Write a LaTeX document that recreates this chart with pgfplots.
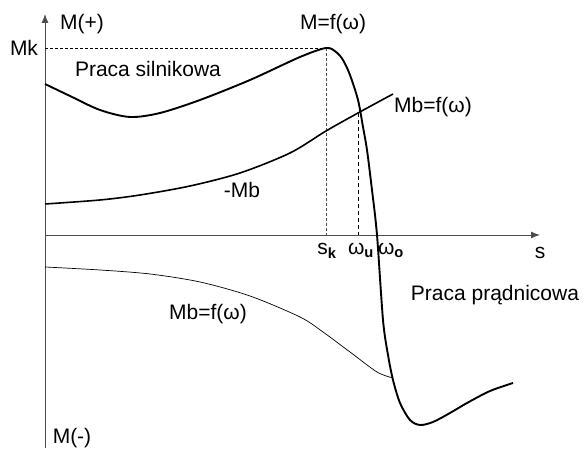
\documentclass[border=0pt]{standalone}
\usepackage{pgfplots}
\pgfplotsset{compat=1.18}
\usepackage{fontspec}
\setmainfont{Liberation Sans}
\usetikzlibrary{arrows.meta}

% torque characteristic of an induction machine (pixel-like units)
\pgfplotstableread{
x y
0 151
25 139
55 125
85 118
115 122
155 135
205 155
255 178
281 187
291 183
298 175
305 160
313 135
318 108
322 85
327 45
332 0
338 -85
343 -120
348 -145
355 -168
365 -185
375 -190
388 -187
405 -178
422 -168
445 -156
468 -148
}\motor

\pgfplotstableread{
x y
0 31
55 35
95 40
145 49
195 62
245 82
281 104
313 122
348 141
}\loadup

\pgfplotstableread{
x y
0 -32
55 -35
105 -39
155 -47
205 -61
255 -82
278 -97
305 -117
332 -137
348 -143
}\loaddown

\begin{document}
\begin{tikzpicture}[lbl/.style={font=\fontsize{21}{25}\selectfont, inner sep=0pt}]
\begin{axis}[
  scale only axis,
  width=495pt, height=434pt,
  xmin=0, xmax=495, ymin=-213, ymax=221,
  axis lines=middle,
  axis line style={draw=black!70, line width=0.9pt, -{Latex[length=9pt,width=7pt]}},
  xtick=\empty, ytick=\empty,
  clip=false,
]
% fixes the page extent
\path (axis cs:-45,-213) rectangle (axis cs:539,235);

\addplot[black, line width=0.6pt, dash pattern=on 3pt off 2pt] coordinates {(0,187) (281,187)};
\addplot[black!70, line width=0.6pt, dash pattern=on 3pt off 2pt] coordinates {(281,187) (281,0)};
\addplot[black, line width=0.6pt, dash pattern=on 4pt off 3pt] coordinates {(313,122) (313,0)};

\addplot[black, line width=1.9pt, smooth, tension=0.5] table {\motor};
\addplot[black, line width=1.6pt, smooth] table {\loadup};
\addplot[black, line width=0.7pt, smooth] table {\loaddown};

\node[lbl] at (axis cs:37,211) {M(+)};
\node[lbl] at (axis cs:-21,187) {Mk};
\node[lbl] at (axis cs:103,166) {Praca silnikowa};
\node[lbl] at (axis cs:288,211) {M=f(ω)};
\node[lbl] at (axis cs:388,128) {Mb=f(ω)};
\node[lbl] at (axis cs:197,45) {-Mb};
\node[lbl] at (axis cs:282,-16) {s\textsubscript{\bfseries k}};
\node[lbl] at (axis cs:316,-15) {ω\textsubscript{\bfseries u}};
\node[lbl] at (axis cs:346,-15) {ω\textsubscript{\bfseries o}};
\node[lbl] at (axis cs:495,-18) {s};
\node[lbl] at (axis cs:450,-60) {Praca prądnicowa};
\node[lbl] at (axis cs:163,-79) {Mb=f(ω)};
\node[lbl] at (axis cs:27,-203) {M(-)};
\end{axis}
\end{tikzpicture}
\end{document}
